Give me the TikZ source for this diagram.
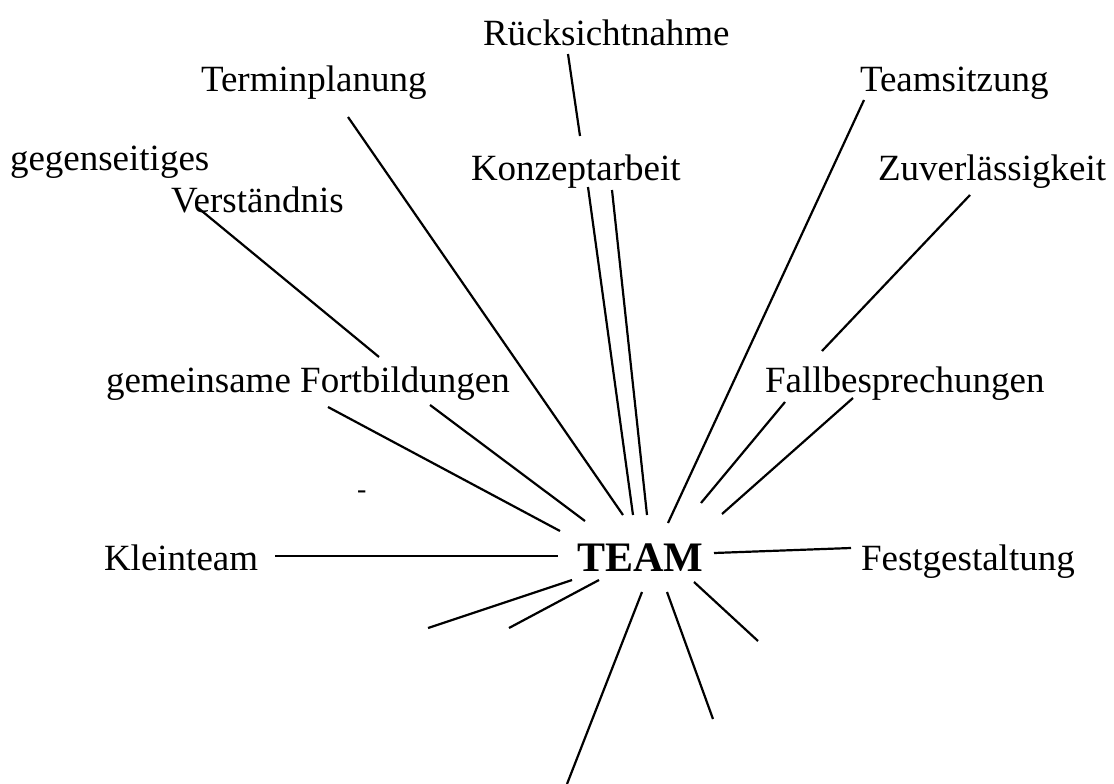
\documentclass[tikz,border=0pt]{standalone}
\usepackage{fontspec}
\setmainfont{Liberation Serif}
\begin{document}
\begin{tikzpicture}[x=1pt,y=-1pt,
  lbl/.style={anchor=base west,inner sep=0pt,outer sep=0pt,font=\fontsize{37}{44}\selectfont},
  center/.style={anchor=base west,inner sep=0pt,outer sep=0pt,font=\fontsize{42}{50}\selectfont\bfseries},
  ray/.style={line width=2.2pt,line cap=butt}]
\useasboundingbox (0,0) rectangle (1114,784);
% labels
\node[lbl] (rueck) at (483,46) {Rücksichtnahme};
\node[lbl] (termin) at (201,92) {Terminplanung};
\node[lbl] (teamsitz) at (860,92) {Teamsitzung};
\node[lbl] (gegen) at (10,170) {gegenseitiges};
\node[lbl] (verst) at (171,212) {Verständnis};
\node[lbl] (konzept) at (471,180) {Konzeptarbeit};
\node[lbl] (zuver) at (878,180) {Zuverlässigkeit};
\node[lbl] (fortb) at (106,392) {gemeinsame Fortbildungen};
\node[lbl] (fall) at (765,392) {Fallbesprechungen};
\node[lbl] (klein) at (104,570) {Kleinteam};
\node[center] (team) at (577,571) {TEAM};
\node[lbl] (fest) at (861,570) {Festgestaltung};
\node[anchor=base west,inner sep=0pt,font=\fontsize{28}{30}\selectfont] (dash) at (357,498) {-};
% connector ends
\coordinate (r1a) at (568,54);  \coordinate (r1b) at (580,136);
\coordinate (t1a) at (348,117); \coordinate (t1b) at (623,515);
\coordinate (k1a) at (588,187); \coordinate (k1b) at (633,515);
\coordinate (k2a) at (612,190); \coordinate (k2b) at (647,515);
\coordinate (s1a) at (864,100); \coordinate (s1b) at (668,523);
\coordinate (z1a) at (970,195); \coordinate (z1b) at (822,351);
\coordinate (f1a) at (785,402); \coordinate (f1b) at (701,503);
\coordinate (f2a) at (853,398); \coordinate (f2b) at (722,514);
\coordinate (v1a) at (197,207); \coordinate (v1b) at (379,357);
\coordinate (g1a) at (328,407); \coordinate (g1b) at (560,531);
\coordinate (g2a) at (430,405); \coordinate (g2b) at (585,521);
\coordinate (l1a) at (275,556); \coordinate (l1b) at (558,556);
\coordinate (e1a) at (714,553); \coordinate (e1b) at (851,548);
\coordinate (u1a) at (572,580); \coordinate (u1b) at (428,628);
\coordinate (u2a) at (599,580); \coordinate (u2b) at (509,628);
\coordinate (u3a) at (642,592); \coordinate (u3b) at (567,784);
\coordinate (u4a) at (667,592); \coordinate (u4b) at (713,719);
\coordinate (u5a) at (694,582); \coordinate (u5b) at (758,641);
% connectors
\foreach \c in {r1,t1,k1,k2,s1,z1,f1,f2,v1,g1,g2,l1,e1,u1,u2,u3,u4,u5}
  \draw[ray] (\c a) -- (\c b);
\end{tikzpicture}
\end{document}
